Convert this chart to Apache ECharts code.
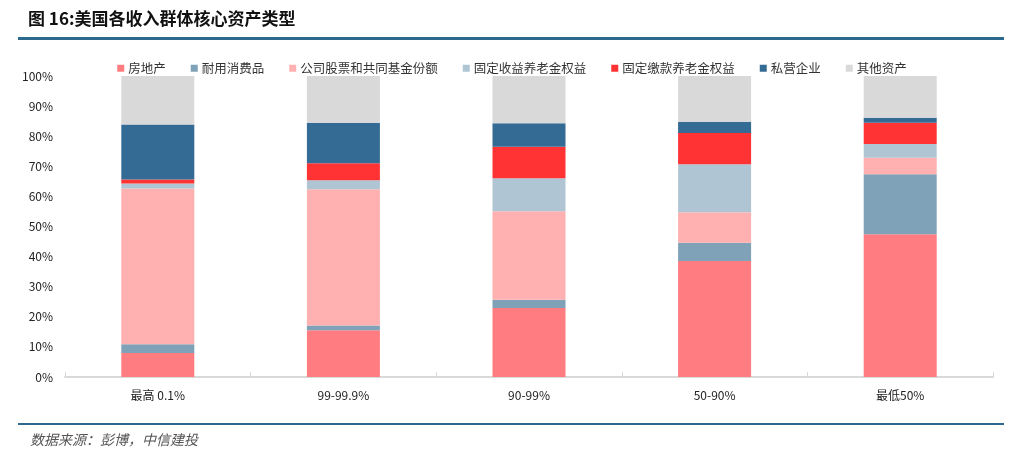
<!DOCTYPE html>
<html><head><meta charset="utf-8">
<script src="https://cdn.jsdelivr.net/npm/echarts@6/dist/echarts.min.js"></script>
<style>html,body{margin:0;padding:0;background:#fff}#c{width:1024px;height:461px}</style>
</head><body><div id="c"></div>
<script>
const categories = ['最高 0.1%', '99-99.9%', '90-99%', '50-90%', '最低50%'];
const seriesNames = ['房地产', '耐用消费品', '公司股票和共同基金份额', '固定收益养老金权益', '固定缴款养老金权益', '私营企业', '其他资产'];
const realEstate = [8.0, 15.5, 22.9, 38.5, 47.4];
const durables = [2.9, 1.6, 2.8, 6.1, 20.0];
const equities = [51.7, 45.3, 29.4, 10.1, 5.4];
const definedBenefit = [1.7, 3.0, 10.9, 16.0, 4.6];
const definedContribution = [1.3, 5.6, 10.5, 10.4, 7.1];
const privateBusiness = [18.3, 13.5, 7.8, 3.7, 1.6];
const otherAssets = [16.1, 15.5, 15.7, 15.2, 13.9];
const yTicks = [0, 10, 20, 30, 40, 50, 60, 70, 80, 90, 100];

const colors = ['#FF7C80', '#7FA2B8', '#FFB0B0', '#AFC5D4', '#FF3333', '#346B94', '#D9D9D9'];
const dataSets = [realEstate, durables, equities, definedBenefit, definedContribution, privateBusiness, otherAssets];
const font = '"Noto Sans CJK SC", "Noto Sans", sans-serif';

const chart = echarts.init(document.getElementById('c'), null, {renderer: 'canvas'});
chart.setOption({
  animation: false,
  backgroundColor: '#fff',
  textStyle: {fontFamily: font},
  graphic: [
    {type: 'text', left: 28, top: 10, style: {text: '图 16:美国各收入群体核心资产类型', font: 'bold 17px ' + font, fill: '#111'}},
    {type: 'rect', shape: {x: 18, y: 37, width: 986, height: 3}, style: {fill: '#2B6A8C'}},
    {type: 'rect', shape: {x: 18, y: 423, width: 986, height: 2}, style: {fill: '#2B6A8C'}},
    {type: 'text', left: 30, top: 433, style: {text: '数据来源：彭博，中信建投', font: 'italic 14px ' + font, fill: '#555'}}
  ],
  legend: {
    top: 57,
    left: 'center',
    itemWidth: 7,
    itemHeight: 7,
    itemGap: 25,
    icon: 'rect',
    textStyle: {fontSize: 12.5, color: '#333', fontFamily: font, padding: [0, 0, 0, -1]},
    data: seriesNames
  },
  grid: {left: 65, right: 31, top: 76, bottom: 84, containLabel: false},
  xAxis: {
    type: 'category',
    data: categories,
    axisLine: {show: true, lineStyle: {color: '#D9D9D9', width: 2}},
    axisTick: {show: true, inside: true, length: 5, lineStyle: {color: '#D9D9D9'}},
    axisLabel: {fontSize: 12, color: '#222', margin: 12, fontFamily: font}
  },
  yAxis: {
    type: 'value',
    min: 0, max: 100, interval: 10,
    axisLine: {show: false},
    axisTick: {show: false},
    splitLine: {show: false},
    axisLabel: {fontSize: 12, color: '#222', margin: 12, formatter: v => yTicks.includes(v) ? v + '%' : '', fontFamily: font}
  },
  series: seriesNames.map((name, i) => ({
    name: name,
    type: 'bar',
    stack: 'total',
    barWidth: 73,
    itemStyle: {color: colors[i]},
    data: dataSets[i]
  }))
});
</script>
</body></html>
